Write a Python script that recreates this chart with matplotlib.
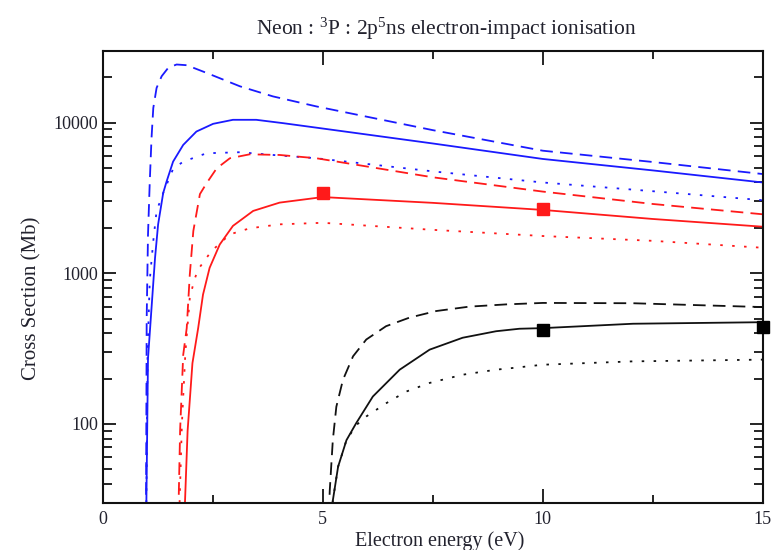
import matplotlib
matplotlib.use("Agg")
import matplotlib.pyplot as plt
from matplotlib.ticker import FixedLocator, NullFormatter, FixedFormatter, LogLocator

plt.rcParams['font.family'] = ['Liberation Serif', 'DejaVu Serif']
plt.rcParams['mathtext.fontset'] = 'custom'
plt.rcParams['mathtext.rm'] = 'Liberation Serif'
plt.rcParams['mathtext.it'] = 'Liberation Serif:italic'

TXT = '#22222e'

title = r'Neon : $^{\mathrm{3}}$P : 2p$^{\mathrm{5}}$ns electron-impact ionisation'
xlabel = 'Electron energy (eV)'
ylabel = 'Cross Section (Mb)'

# Blue curves
blue_solid_x = [0.99, 1.03, 1.11, 1.19, 1.26, 1.375, 1.45, 1.6, 1.83, 2.13, 2.51, 2.96, 3.49, 4.1, 4.93, 7.5, 10, 12.5, 15]
blue_solid_y = [25, 272, 587, 1265, 2110, 3400, 4040, 5500, 7100, 8710, 9800, 10420, 10420, 9900, 9180, 7260, 5730, 4810, 4000]

blue_dash_x = [0.985, 1.0, 1.03, 1.07, 1.11, 1.15, 1.225, 1.34, 1.49, 1.68, 1.91, 2.36, 3.12, 3.87, 4.86, 7.5, 10, 12.5, 15]
blue_dash_y = [25, 500, 1800, 4040, 7870, 12470, 16960, 20270, 23070, 24260, 24000, 21340, 17380, 14900, 12780, 8900, 6500, 5470, 4550]

blue_dot_x = [0.99, 1.02, 1.07, 1.15, 1.225, 1.375, 1.6, 1.83, 2.36, 3.12, 3.87, 4.86, 7.5, 10, 12.5, 15]
blue_dot_y = [25, 300, 900, 1635, 2590, 3400, 4920, 5500, 6250, 6350, 6090, 5790, 4740, 4000, 3500, 3050]

# Red curves
red_solid_x = [1.86, 1.93, 2.04, 2.17, 2.28, 2.43, 2.66, 2.96, 3.42, 4.02, 5.0, 7.5, 10, 12.5, 15]
red_solid_y = [25, 90, 253, 432, 721, 1085, 1550, 2060, 2590, 2940, 3200, 2930, 2630, 2290, 2035]

red_dash_x = [1.72, 1.76, 1.83, 1.91, 1.98, 2.06, 2.21, 2.36, 2.59, 2.89, 3.34, 4.02, 4.86, 7.5, 10, 12.5, 15]
red_dash_y = [25, 91, 287, 432, 980, 1905, 3350, 3950, 4960, 5790, 6150, 6090, 5790, 4330, 3480, 2880, 2460]

red_dot_x = [1.74, 1.8, 1.88, 1.98, 2.08, 2.17, 2.47, 2.89, 3.34, 4.02, 5.0, 7.5, 10, 12.5, 15]
red_dot_y = [25, 100, 300, 685, 900, 1060, 1400, 1810, 1985, 2110, 2160, 1940, 1765, 1640, 1475]

red_pts_x = [5, 10]
red_pts_y = [3400, 2650]

# Black curves
black_solid_x = [5.2, 5.23, 5.35, 5.54, 5.76, 6.14, 6.75, 7.43, 8.18, 8.94, 9.47, 10, 12.05, 15]
black_solid_y = [25, 31, 52, 78, 101, 152, 229, 311, 373, 412, 428, 432, 462, 473]

black_dash_x = [5.14, 5.16, 5.23, 5.31, 5.46, 5.69, 5.99, 6.44, 6.97, 7.58, 8.33, 9.17, 10, 12.05, 15]
black_dash_y = [25, 36, 78, 130, 196, 281, 363, 445, 507, 561, 600, 621, 635, 632, 596]

black_dot_x = [5.2, 5.23, 5.35, 5.54, 5.76, 5.99, 6.44, 6.9, 7.43, 8.18, 8.94, 9.32, 10, 12.05, 15]
black_dot_y = [25, 31, 52, 78, 98, 112, 137, 164, 187, 212, 229, 235, 247, 260, 267]

black_pts_x = [10, 15]
black_pts_y = [423, 438]

xticks = [0, 5, 10, 15]
xtick_labels = ['0', '5', '10', '15']
yticks = [100, 1000, 10000]
ytick_labels = ['100', '1000', '10000']

fig = plt.figure(figsize=(7.72, 5.5), dpi=100)
ax = fig.add_axes([0.133, 0.086, 0.855, 0.822])

LW = 1.3
DASH = (7, 4)
DOT = (1.4, 5.2)

def draw(x, y, color, style):
    if style == 'solid':
        ax.plot(x, y, color=color, lw=LW)
    elif style == 'dash':
        ax.plot(x, y, color=color, lw=LW, dashes=DASH)
    else:
        ax.plot(x, y, color=color, lw=LW, dashes=DOT)

draw(blue_dash_x, blue_dash_y, '#1a1aff', 'dash')
draw(blue_solid_x, blue_solid_y, '#1a1aff', 'solid')
draw(blue_dot_x, blue_dot_y, '#1a1aff', 'dot')
draw(red_dash_x, red_dash_y, '#ff1a1a', 'dash')
draw(red_solid_x, red_solid_y, '#ff1a1a', 'solid')
draw(red_dot_x, red_dot_y, '#ff1a1a', 'dot')
draw(black_dash_x, black_dash_y, '#111111', 'dash')
draw(black_solid_x, black_solid_y, '#111111', 'solid')
draw(black_dot_x, black_dot_y, '#111111', 'dot')

ax.plot(red_pts_x, red_pts_y, 's', color='#ff1a1a', ms=8, ls='none', clip_on=False, zorder=5)
ax.plot(black_pts_x, black_pts_y, 's', color='#000000', ms=8, ls='none', clip_on=False, zorder=5)

ax.set_yscale('log')
ax.set_xlim(0, 15)
ax.set_ylim(30, 30000)

ax.xaxis.set_major_locator(FixedLocator(xticks))
ax.xaxis.set_major_formatter(FixedFormatter(xtick_labels))
ax.xaxis.set_minor_locator(FixedLocator([2.5, 7.5, 12.5]))
ax.yaxis.set_major_locator(FixedLocator(yticks))
ax.yaxis.set_major_formatter(FixedFormatter(ytick_labels))
ax.yaxis.set_minor_locator(LogLocator(base=10, subs=range(2, 10), numticks=20))
ax.yaxis.set_minor_formatter(NullFormatter())

for s in ax.spines.values():
    s.set_linewidth(1.5)
    s.set_color('#111111')

ax.tick_params(axis='x', which='major', direction='in', length=10, width=1.2,
               top=True, bottom=True, labelsize=13, pad=6, labelcolor=TXT)
ax.tick_params(axis='x', which='minor', direction='in', length=5.5, width=1.2,
               top=True, bottom=True)
ax.tick_params(axis='y', which='major', direction='in', length=9.5, width=1.2,
               left=True, right=True, labelsize=13, pad=3, labelcolor=TXT)
ax.tick_params(axis='y', which='minor', direction='in', length=6.5, width=1.2,
               left=True, right=True)

ax.set_xlabel(xlabel, fontsize=14.5, color=TXT)
ax.xaxis.set_label_coords(0.511, -0.063)
ax.set_ylabel(ylabel, fontsize=15, color=TXT)
ax.yaxis.set_label_coords(-0.093, 0.453)

fig.text(0.578, 0.936, title, ha='center', va='baseline', fontsize=15.5, color=TXT)

fig.savefig('out.png', dpi=100)
